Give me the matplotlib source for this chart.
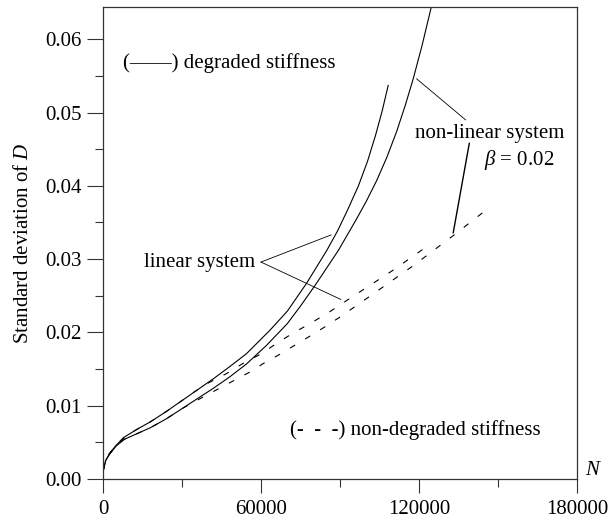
import matplotlib
matplotlib.use("Agg")
import matplotlib.pyplot as plt
from matplotlib.ticker import MultipleLocator, FormatStrFormatter

plt.rcParams['font.family'] = ['Liberation Serif', 'DejaVu Serif']
plt.rcParams['mathtext.fontset'] = 'custom'
plt.rcParams['mathtext.rm'] = 'Liberation Serif'
plt.rcParams['mathtext.it'] = 'Liberation Serif:italic'
plt.rcParams['lines.scale_dashes'] = False

# ---- data ----
n_lin_deg = [0, 1000, 2500, 5000, 8000, 13000, 18000, 24000, 30000, 36000, 42000,
             48000, 54500, 63400, 70000, 77300, 85000, 89000, 93000, 97000,
             100500, 103500, 106000, 108300]
d_lin_deg = [0.0010, 0.0025, 0.0035, 0.0046, 0.0057, 0.0068, 0.0078, 0.0092,
             0.0107, 0.0122, 0.0137, 0.0153, 0.0171, 0.0203, 0.0229, 0.0267,
             0.0312, 0.0338, 0.0368, 0.0400, 0.0434, 0.0469, 0.0502, 0.0537]

n_nl_deg = [0, 1000, 2500, 5000, 8000, 13000, 18000, 24000, 30000, 36000, 42000,
            48000, 54500, 62000, 70000, 75000, 80500, 89400, 96000, 100000,
            103900, 107800, 111500, 114800, 117800, 121200, 125000]
d_nl_deg = [0.0010, 0.0025, 0.0034, 0.0045, 0.0054, 0.0062, 0.0070, 0.0082,
            0.0096, 0.0110, 0.0124, 0.0139, 0.0157, 0.0182, 0.0212, 0.0236,
            0.0264, 0.0312, 0.0353, 0.0379, 0.0407, 0.0439, 0.0474, 0.0510,
            0.0546, 0.0592, 0.0649]

n_lin_nondeg = [0, 1000, 2500, 5000, 8000, 13000, 18000, 24000, 30000, 34300,
                40000, 47000, 53300, 60200, 65900, 72150, 78600, 85600, 91900,
                97000, 110200, 122900]
d_lin_nondeg = [0.0010, 0.0025, 0.0035, 0.0046, 0.0057, 0.0068, 0.0078, 0.0092,
                0.0107, 0.0118, 0.0131, 0.0144, 0.0158, 0.0171, 0.0185, 0.0199,
                0.0212, 0.0227, 0.0242, 0.0254, 0.0285, 0.0317]

n_nl_nondeg = [0, 1000, 2500, 5000, 8000, 13000, 18000, 24000, 30000, 38100,
               43800, 49500, 55800, 61500, 66600, 78600, 84000, 90000, 100000,
               117800, 133700, 144400]
d_nl_nondeg = [0.0010, 0.0025, 0.0034, 0.0045, 0.0054, 0.0062, 0.0070, 0.0082,
               0.0096, 0.0112, 0.0123, 0.0134, 0.0146, 0.0159, 0.0169, 0.0195,
               0.0207, 0.0221, 0.0246, 0.0291, 0.0334, 0.0364]

x_ticks = [0, 60000, 120000, 180000]
x_tick_labels = ["0", "60000", "120000", "180000"]
y_ticks = [0.00, 0.01, 0.02, 0.03, 0.04, 0.05, 0.06]

FS = 15
edge = '#333333'

fig = plt.figure(figsize=(6.11, 5.26), dpi=100)
ax = fig.add_axes([103/611, 1-479/526, (577-103)/611, (479-7)/526])
ax.set_xlim(0, 180000)
ax.set_ylim(0, 0.0644)

lw = 0.8
ax.plot(n_lin_deg, d_lin_deg, color='black', lw=lw)
ax.plot(n_nl_deg, d_nl_deg, color='black', lw=lw)
ax.plot(n_lin_nondeg, d_lin_nondeg, color='black', lw=lw, dashes=(4.3, 8.4))
ax.plot(n_nl_nondeg, d_nl_nondeg, color='black', lw=lw, dashes=(4.3, 8.4))

# leader lines
llw = 0.6
ax.plot([60000, 86600], [0.0296, 0.0333], color='black', lw=llw)
ax.plot([60000, 90300], [0.0296, 0.0245], color='black', lw=llw)
ax.plot([119100, 137700], [0.0546, 0.0490], color='black', lw=llw)
ax.plot([139100, 133000], [0.0458, 0.0336], color='black', lw=1.0)

# annotations
ax.text(57700, 0.0296, "linear system", fontsize=FS, ha='right', va='center')
ax.text(7600, 0.0567, "(——) degraded stiffness", fontsize=FS, ha='left', va='center')
ax.text(71000, 0.0067, "(-  -  -) non-degraded stiffness", fontsize=FS,
        ha='left', va='center')
ax.text(118500, 0.0472, "non-linear system", fontsize=FS, ha='left', va='center')
ax.text(144500, 0.0435, r"$\beta$ = 0.02", fontsize=FS, ha='left', va='center')

# axes styling
for s in ax.spines.values():
    s.set_color(edge)
    s.set_linewidth(0.9)

ax.set_xticks(x_ticks)
ax.set_xticklabels(x_tick_labels)
ax.xaxis.set_minor_locator(MultipleLocator(30000))
ax.set_yticks(y_ticks)
ax.yaxis.set_major_formatter(FormatStrFormatter('%.2f'))
ax.yaxis.set_minor_locator(MultipleLocator(0.005))

ax.tick_params(axis='both', which='both', direction='out', color=edge, width=0.8,
               labelsize=FS)
ax.tick_params(axis='y', which='major', length=11.3, pad=4)
ax.tick_params(axis='y', which='minor', length=5.8)
ax.tick_params(axis='x', which='major', length=10.3, pad=5)
ax.tick_params(axis='x', which='minor', length=5.5)

ax.set_ylabel(r"Standard deviation of $\it{D}$", fontsize=FS, labelpad=9)
ax.text(1.017, 0.018, r"$\it{N}$", transform=ax.transAxes, fontsize=FS,
        ha='left', va='center')

fig.savefig("out.png", dpi=100)
